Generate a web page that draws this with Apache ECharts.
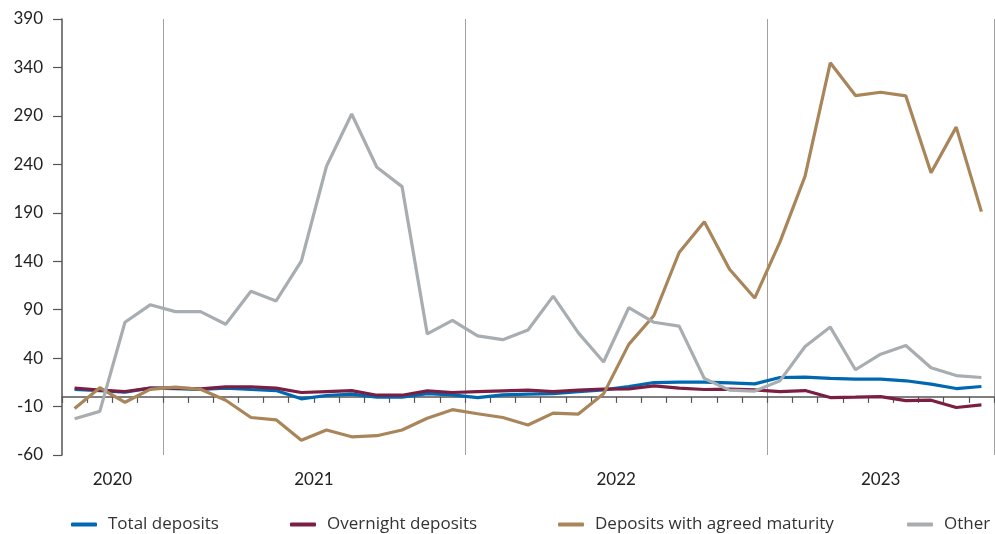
<!DOCTYPE html>
<html>
<head>
<meta charset="utf-8">
<script src="https://cdn.jsdelivr.net/npm/echarts@6/dist/echarts.min.js"></script>
<style>
  html, body { margin: 0; padding: 0; background: #fff; }
  #chart { width: 995px; height: 534px; }
</style>
</head>
<body>
<div id="chart"></div>
<script>
var months = [
	'Sep 2020', 'Oct 2020', 'Nov 2020', 'Dec 2020',
	'Jan 2021', 'Feb 2021', 'Mar 2021', 'Apr 2021', 'May 2021', 'Jun 2021',
	'Jul 2021', 'Aug 2021', 'Sep 2021', 'Oct 2021', 'Nov 2021', 'Dec 2021',
	'Jan 2022', 'Feb 2022', 'Mar 2022', 'Apr 2022', 'May 2022', 'Jun 2022',
	'Jul 2022', 'Aug 2022', 'Sep 2022', 'Oct 2022', 'Nov 2022', 'Dec 2022',
	'Jan 2023', 'Feb 2023', 'Mar 2023', 'Apr 2023', 'May 2023', 'Jun 2023',
	'Jul 2023', 'Aug 2023', 'Sep 2023'
];
var years = ['2020', '2021', '2022', '2023'];

var totalDeposits = [7.6, 6.5, 4.8, 9, 8.6, 7.6, 9, 7.6, 6.5, -2, 1.4, 2.8, -0.3, -0.3, 3.4, 2, -0.7, 2, 2.8, 3.4,
	5.5, 7.2, 10.7, 14.8, 15.2, 15.2, 14.5, 13.4, 20, 20.3, 19, 18.3, 18.3, 16.6, 13.1, 8.6, 10.7];
var overnightDeposits = [9, 7, 5.5, 9, 9, 8.3, 10.3, 10.3, 9, 4.5, 5.5, 6.5, 1.7, 1.7, 6.2, 4.5, 5.5, 6.2, 6.9, 5.5,
	6.9, 7.9, 8.3, 11.4, 9, 7.6, 7.9, 7.2, 5.5, 6.5, -0.7, -0.3, 0.3, -3.8, -3.4, -11, -8.3];
var agreedMaturity = [-12, 9.4, -5.6, 7.8, 10, 7.8, -3.5, -21.3, -23.7, -44.7, -34.2, -41.2, -40.1, -34.2, -22, -13.2,
	-17.4, -21.3, -29, -16.8, -17.8, 3.1, 54.2, 84, 149, 180.7, 131.7, 102, 159.7, 227.8, 344.8, 311, 314.4,
	310.6, 231.3, 278.4, 191.2];
var other = [-22.6, -15, 77, 95, 88, 88, 75, 109, 99, 140, 238, 292, 237, 217, 65, 79, 63, 59, 69, 104, 66, 36,
	92, 77, 73, 19, 7, 6, 16.5, 52, 72, 28, 44, 53, 30, 22, 20];

var names = ['Total deposits', 'Overnight deposits', 'Deposits with agreed maturity', 'Other'];
var colors = ['#0068b0', '#7b1f42', '#a9855a', '#a7adb0'];
var seriesData = [totalDeposits, overnightDeposits, agreedMaturity, other];

// year boundaries and label centres, taken from the month list
var yearStarts = [];
var yearCenters = [];
years.forEach(function(y) {
	var first = -1, last = -1;
	months.forEach(function(m, i) {
		if(m.slice(-4) == y) {
			if(first < 0) first = i;
			last = i;
		}
	});
	if(first > 0) yearStarts.push(first);
	yearCenters.push((first + last + 1) / 2);
});

var font = 'Lato, "Open Sans", sans-serif';
var legendLeft = [66, 285, 553, 902];

var option = {
	animation: false,
	grid: { left: 62, right: 1, top: 19, bottom: 79 },
	legend: names.map(function(n, i) {
		return {
			data: [n],
			left: legendLeft[i],
			top: 511,
			icon: 'roundRect',
			itemWidth: 26,
			itemHeight: 4,
			itemGap: 0,
			textStyle: { fontFamily: '"Open Sans", sans-serif', fontSize: 17, color: '#333', padding: [0, 0, 0, 6] }
		};
	}),
	xAxis: [{
		type: 'category',
		data: months,
		boundaryGap: true,
		axisLine: { onZero: true, lineStyle: { color: '#555', width: 1.5 } },
		axisTick: { show: true, interval: 0, length: 6, lineStyle: { color: '#555', width: 1.2 } },
		axisLabel: { show: false },
		splitLine: {
			show: true,
			interval: function(index) {
				return yearStarts.indexOf(index) >= 0;
			},
			lineStyle: { color: '#a0a0a0', width: 1 }
		}
	}, {
		type: 'value',
		min: 0,
		max: months.length,
		position: 'bottom',
		axisLine: { show: false, onZero: false },
		axisTick: { show: false },
		splitLine: { show: false },
		axisLabel: {
			customValues: yearCenters,
			margin: 16,
			fontFamily: font,
			fontSize: 17,
			color: '#222',
			formatter: function(v) {
				return years[yearCenters.indexOf(v)];
			}
		}
	}],
	yAxis: {
		type: 'value',
		min: -60,
		max: 390,
		interval: 50,
		axisLine: { show: true, lineStyle: { color: '#555', width: 1.5 } },
		axisTick: { show: true, length: 9, lineStyle: { color: '#555', width: 1.2 } },
		axisLabel: { margin: 19, fontFamily: font, fontSize: 17, color: '#222' },
		splitLine: { show: false }
	},
	series: names.map(function(n, i) {
		return {
			name: n,
			type: 'line',
			data: seriesData[i],
			showSymbol: false,
			symbol: 'none',
			color: colors[i],
			lineStyle: { width: 3.2, color: colors[i] }
		};
	})
};

var chart = echarts.init(document.getElementById('chart'));
chart.setOption(option);
</script>
</body>
</html>
